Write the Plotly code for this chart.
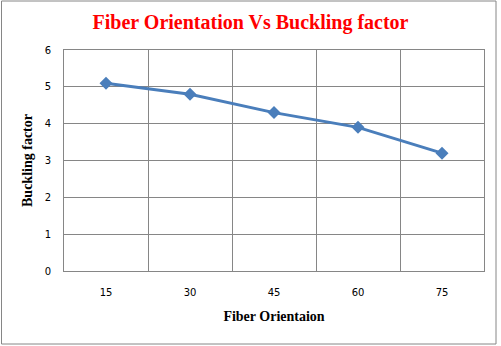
import plotly.graph_objects as go

categories = ["15", "30", "45", "60", "75"]
buckling = [5.1, 4.8, 4.3, 3.9, 3.2]
y_ticks = [0, 1, 2, 3, 4, 5, 6]

W, H = 501, 346
ml, mr, mt, mb = 64, 17, 50, 75
pw, ph = W - ml - mr, H - mt - mb

xpos = list(range(1, len(categories) + 1))
grid = "#868686"

fig = go.Figure()
fig.add_trace(go.Scatter(
    x=xpos, y=buckling, mode="lines+markers",
    line=dict(color="#4A7EBB", width=3),
    marker=dict(symbol="diamond", size=10, color="#4A7EBB"),
    showlegend=False, hoverinfo="skip",
))

fig.update_layout(
    width=W, height=H,
    margin=dict(l=ml, r=mr, t=mt, b=mb, autoexpand=False),
    paper_bgcolor="white", plot_bgcolor="white",
    title=dict(text="<b>Fiber Orientation Vs Buckling factor</b>",
               x=0.5, xanchor="center", y=1 - 22 / H, yanchor="middle",
               font=dict(family="Liberation Serif, DejaVu Serif, serif", size=20, color="#FF0000")),
    xaxis=dict(
        automargin=False,
        range=[0.5, len(categories) + 0.5],
        tickmode="array", tickvals=xpos, ticktext=categories,
        showgrid=False, zeroline=False,
        showline=True, linecolor=grid, linewidth=1, mirror=True,
        ticks="", ticklabelstandoff=12,
        minor=dict(tickmode="array", tickvals=[p + 0.5 for p in xpos[:-1]],
                   showgrid=True, gridcolor=grid, gridwidth=1, ticks=""),
        tickfont=dict(family="DejaVu Sans, Verdana, sans-serif", size=10, color="#000000"),
        title=dict(text="<b>Fiber Orientaion</b>", standoff=14,
                   font=dict(family="Liberation Serif, DejaVu Serif, serif", size=14, color="#000000")),
    ),
    yaxis=dict(
        automargin=False,
        range=[0, 6], tickmode="array", tickvals=y_ticks,
        showgrid=True, gridcolor=grid, gridwidth=1, zeroline=False,
        showline=True, linecolor=grid, linewidth=1, mirror=True,
        ticks="", ticklabelstandoff=10,
        tickfont=dict(family="DejaVu Sans, Verdana, sans-serif", size=10, color="#000000"),
        title=dict(text="<b>Buckling factor</b>", standoff=8,
                   font=dict(family="Liberation Serif, DejaVu Serif, serif", size=14, color="#000000")),
    ),
)

fig.add_shape(type="rect", xref="paper", yref="paper",
              x0=(1.5 - ml) / pw, x1=(W - 5 - ml) / pw,
              y0=-(mb - 2) / ph, y1=1 + (mt - 1) / ph,
              line=dict(color="#868686", width=1), layer="below")

fig.write_html("out.html", config={"displayModeBar": False, "staticPlot": True},
               post_script="document.body.style.margin='0';document.body.style.overflow='hidden';")
